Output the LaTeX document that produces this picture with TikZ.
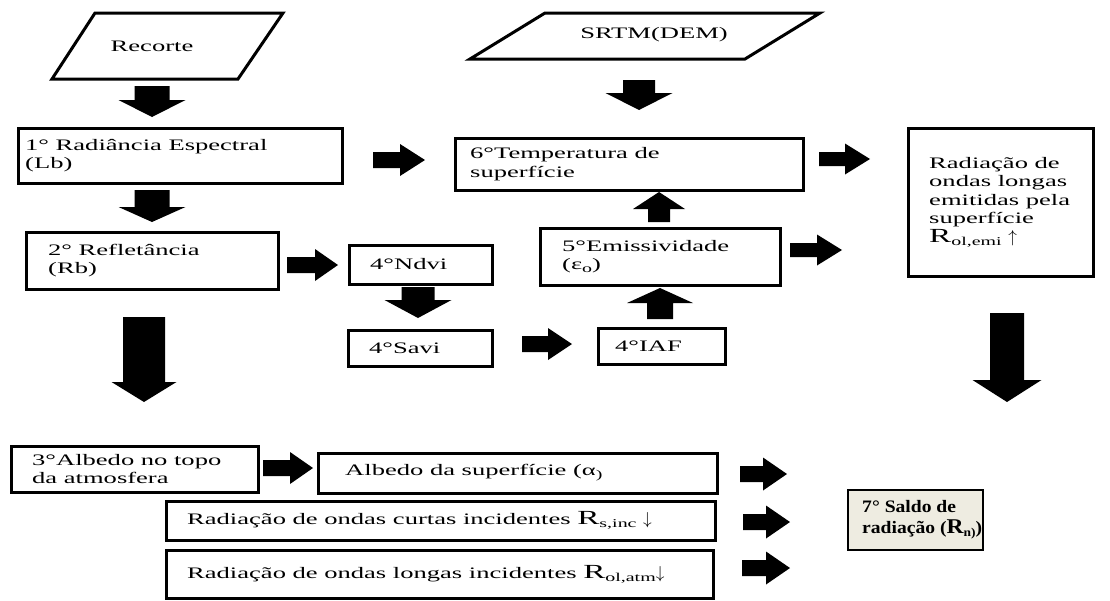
\documentclass[tikz,border=0pt]{standalone}
\usepackage{fontspec}
\setmainfont{Liberation Serif}[FakeStretch=1.66]
\newfontfamily\saldofont{Liberation Serif}[FakeStretch=1.12]
\usetikzlibrary{calc}
\definecolor{beige}{HTML}{EEECE1}

% block arrow from named coordinate #1 to #2: shaft half width #3, head half width #4, head length #5
\newcommand{\blk}[5]{%
  \coordinate (hb) at ($(#2)!#5!(#1)$);
  \fill ($(#1)!#3!90:(#2)$) -- ($(hb)!#3!90:(#2)$) -- ($(hb)!#4!90:(#2)$) -- (#2)
     -- ($(hb)!#4!-90:(#2)$) -- ($(hb)!#3!-90:(#2)$) -- ($(#1)!#3!-90:(#2)$) -- cycle;}

% box: [options] name, x1, y1, x2, y2, left padding, text
\newcommand{\bx}[8][]{%
  \pgfmathsetmacro\bxw{#5-#3-3}%
  \pgfmathsetmacro\bxh{#6-#4-3}%
  \node[boxstyle,#1,minimum width=\bxw pt,minimum height=\bxh pt,anchor=north west]
     (#2) at ({#3+1.5},{-#4-1.5}) {};
  \node[txt,anchor=west] (#2-t) at ($(#2.west)+({#7-1.5},0)$) {#8};}

\newcommand{\bigR}{{\fontsize{20}{20}\selectfont R}}
\newcommand{\sbs}[1]{\raisebox{-3pt}{\fontsize{12}{12}\selectfont #1}}
\newcommand{\up}{{\fontsize{17}{17}\selectfont$\uparrow$}}
\newcommand{\dn}{{\fontsize{17}{17}\selectfont$\downarrow$}}

\tikzset{
  boxstyle/.style={draw, line width=3pt, rectangle, inner sep=0pt},
  txt/.style={align=left, inner sep=0pt, font=\fontsize{16}{18.5}\selectfont},
  saldotxt/.style={align=left, inner sep=0pt, font=\saldofont\bfseries\fontsize{17.5}{20.5}\selectfont},
  shapeline/.style={draw, line width=3pt, line join=miter},
  plain/.style={font=\fontsize{16}{18.5}\selectfont, inner sep=0pt}
}

\begin{document}
\begin{tikzpicture}[x=1pt,y=1pt]
\useasboundingbox (0,0) rectangle (1110,-600);
\fill[white] (0,0) rectangle (1110,-600);

% input parallelograms
\coordinate (r1) at (95,-13); \coordinate (r2) at (283,-13);
\coordinate (r3) at (238,-79); \coordinate (r4) at (52,-79);
\draw[shapeline] (r1) -- (r2) -- (r3) -- (r4) -- cycle;
\node[plain] (recorte) at (152,-46) {Recorte};

\coordinate (s1) at (545,-13); \coordinate (s2) at (820,-13);
\coordinate (s3) at (745,-59); \coordinate (s4) at (470,-59);
\draw[shapeline] (s1) -- (s2) -- (s3) -- (s4) -- cycle;
\node[plain] (srtm) at (654,-35) {SRTM(DEM)};

% boxes
\bx{lb}{15}{125}{342}{183}{10}{1° Radiância Espectral\\(Lb)}
\bx{rb}{23}{229}{278}{289}{25}{2° Refletância\\(Rb)}
\bx{ndvi}{346}{242}{492}{284}{24}{4°Ndvi}
\bx{savi}{345}{327}{492}{366}{24}{4°Savi}
\bx{iaf}{595}{325}{725}{364}{20}{4°IAF}
\bx{emis}{537}{225}{780}{285}{25}{5°Emissividade\\(ε\sbs{o})}
\bx{temp}{452}{135}{803}{190}{18}{6°Temperatura de\\superfície}
\bx{rad}{905}{125}{1093}{276}{24}{Radiação de\\ondas longas\\emitidas pela\\superfície\\\bigR\sbs{ol,emi} \up}
\bx{albtoa}{8}{443}{258}{492}{24}{3°Albedo no topo\\da atmosfera}
\bx{albsup}{315}{450}{717}{493}{30}{Albedo da superfície (α\sbs{)}}
\bx{rsinc}{163}{498}{715}{540}{24}{Radiação de ondas curtas incidentes \bigR\sbs{s,inc} \dn}
\bx{rolatm}{163}{547}{713}{598}{24}{Radiação de ondas longas incidentes \bigR\sbs{ol,atm}\dn}

% net radiation box
\node[boxstyle, fill=beige, line width=2.5pt, minimum width=135pt, minimum height=60pt,
      anchor=north west] (saldo) at (846.5,-488.5) {};
\node[saldotxt, anchor=west] (saldo-t) at ($(saldo.west)+(15.5,0)$)
      {7° Saldo de\\radiação ({\fontsize{21}{21}\selectfont R}\sbs{n)})};

% arrow end points
\coordinate (a1s) at (152,-86);  \coordinate (a1e) at (152,-117);
\coordinate (a2s) at (152,-190); \coordinate (a2e) at (152,-222);
\coordinate (a3s) at (639,-80);  \coordinate (a3e) at (639,-110);
\coordinate (a4s) at (373,-160); \coordinate (a4e) at (425,-160);
\coordinate (a5s) at (819,-159); \coordinate (a5e) at (870,-159);
\coordinate (a6s) at (287,-265); \coordinate (a6e) at (338,-265);
\coordinate (a7s) at (418,-287); \coordinate (a7e) at (418,-318);
\coordinate (a8s) at (522,-344); \coordinate (a8e) at (572,-344);
\coordinate (a9s) at (660,-319); \coordinate (a9e) at (660,-288);
\coordinate (a10s) at (659,-222); \coordinate (a10e) at (659,-192);
\coordinate (a11s) at (790,-250); \coordinate (a11e) at (842,-250);
\coordinate (a12s) at (144,-317); \coordinate (a12e) at (144,-402);
\coordinate (a13s) at (1007,-313); \coordinate (a13e) at (1007,-402);
\coordinate (a14s) at (263,-468); \coordinate (a14e) at (313,-468);
\coordinate (a15s) at (740,-474); \coordinate (a15e) at (787,-474);
\coordinate (a16s) at (743,-522); \coordinate (a16e) at (790,-522);
\coordinate (a17s) at (742,-568); \coordinate (a17e) at (790,-568);

% block arrows
\blk{a1s}{a1e}{17.5pt}{33.5pt}{17pt}
\blk{a2s}{a2e}{17.5pt}{33.5pt}{15pt}
\blk{a3s}{a3e}{16pt}{33.5pt}{17pt}
\blk{a4s}{a4e}{8pt}{16pt}{25pt}
\blk{a5s}{a5e}{7pt}{15.5pt}{25pt}
\blk{a6s}{a6e}{8pt}{16pt}{23pt}
\blk{a7s}{a7e}{16.5pt}{33.5pt}{18pt}
\blk{a8s}{a8e}{8pt}{16pt}{24pt}
\blk{a9s}{a9e}{13pt}{33pt}{15pt}
\blk{a10s}{a10e}{11pt}{26pt}{17pt}
\blk{a11s}{a11e}{7pt}{15.5pt}{25pt}
\blk{a12s}{a12e}{21pt}{32.5pt}{20pt}
\blk{a13s}{a13e}{17pt}{34.5pt}{22pt}
\blk{a14s}{a14e}{8pt}{16pt}{23pt}
\blk{a15s}{a15e}{8pt}{16.5pt}{24pt}
\blk{a16s}{a16e}{8pt}{16.5pt}{24pt}
\blk{a17s}{a17e}{8pt}{16.5pt}{24pt}
\end{tikzpicture}
\end{document}
